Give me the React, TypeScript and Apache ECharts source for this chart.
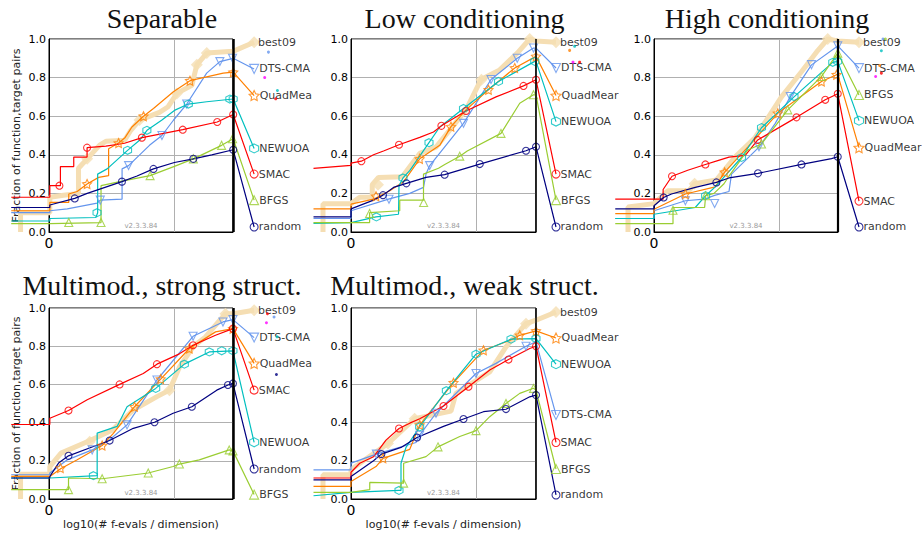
import React, { useEffect, useRef } from 'react';
import * as echarts from 'echarts';

// ---------------- data (x = log10(# f-evals / dimension), y = fraction) ----------------
const ALGOS = ['best09', 'DTS-CMA', 'QuadMear', 'NEWUOA', 'SMAC', 'BFGS', 'random'];
const TITLES = ['Separable', 'Low conditioning', 'High conditioning', 'Multimod., strong struct.', 'Multimod., weak struct.'];
const X_TICK_LABELS = ['0'];
const Y_TICKS = [0, 0.2, 0.4, 0.6, 0.8, 1.0];
const LABEL_X = 1.64;

// Separable
const sepBest09 = [[-0.235, 0], [-0.235, 0.1], [0, 0.1], [0, 0.18], [0.11, 0.19], [0.23, 0.2], [0.23, 0.33], [0.3, 0.379], [0.4, 0.45], [0.45, 0.47], [0.6, 0.475], [0.65, 0.527], [0.72, 0.58], [0.88, 0.62], [0.95, 0.649], [1.02, 0.718], [1.14, 0.76], [1.18, 0.866], [1.26, 0.927], [1.47, 0.936]];
const sepBest09Marks = [[0.3, 0.379], [0.72, 0.58], [1.02, 0.718], [1.18, 0.866], [1.26, 0.927]];
const sepDTS = [[-0.31, 0.1], [0, 0.1], [0, 0.11], [0.14, 0.12], [0.38, 0.15], [0.405, 0.165], [0.58, 0.17], [0.58, 0.327], [0.632, 0.344], [0.8, 0.449], [0.9, 0.5], [0.992, 0.579], [1.099, 0.663], [1.259, 0.823], [1.365, 0.883], [1.472, 0.9]];
const sepDTSMarks = [[0.405, 0.165], [0.632, 0.344], [0.9, 0.5], [1.099, 0.663], [1.365, 0.883], [1.467, 0.9]];
const sepQuad = [[-0.31, 0.11], [0, 0.11], [0, 0.153], [0.152, 0.153], [0.152, 0.197], [0.219, 0.21], [0.299, 0.249], [0.392, 0.283], [0.472, 0.292], [0.472, 0.431], [0.552, 0.461], [0.605, 0.49], [0.659, 0.544], [0.752, 0.6], [0.832, 0.64], [0.992, 0.727], [1.125, 0.784], [1.392, 0.823], [1.472, 0.828]];
const sepQuadMarks = [[0.299, 0.249], [0.552, 0.461], [0.752, 0.6], [1.125, 0.784], [1.472, 0.828]];
const sepNEWUOA = [[-0.31, 0.057], [0, 0.057], [0, 0.07], [0.37, 0.075], [0.384, 0.1], [0.384, 0.3], [0.46, 0.327], [0.624, 0.423], [0.72, 0.475], [0.78, 0.527], [0.9, 0.58], [1.0, 0.63], [1.112, 0.663], [1.259, 0.675], [1.472, 0.689]];
const sepNEWUOAMarks = [[0.379, 0.1], [0.624, 0.423], [0.779, 0.527], [1.112, 0.663], [1.445, 0.689], [1.472, 0.689]];
const sepSMAC = [[-0.31, 0.18], [0, 0.18], [0, 0.24], [0.085, 0.24], [0.085, 0.339], [0.192, 0.339], [0.192, 0.388], [0.299, 0.388], [0.299, 0.437], [0.45, 0.445], [0.6, 0.46], [0.74, 0.489], [1.067, 0.53], [1.344, 0.57], [1.472, 0.609]];
const sepSMACMarks = [[0.077, 0.24], [0.299, 0.437], [0.739, 0.489], [1.067, 0.53], [1.344, 0.57], [1.472, 0.609]];
const sepBFGS = [[-0.31, 0.043], [0, 0.043], [0.411, 0.049], [0.411, 0.24], [0.6, 0.266], [0.805, 0.292], [1.0, 0.34], [1.152, 0.379], [1.379, 0.449], [1.472, 0.483]];
const sepBFGSMarks = [[0.152, 0.049], [0.411, 0.049], [0.805, 0.292], [1.152, 0.379], [1.379, 0.449], [1.467, 0.483]];
const sepRandom = [[-0.31, 0.127], [0, 0.127], [0, 0.14], [0.2, 0.174], [0.3, 0.2], [0.579, 0.261], [0.7, 0.29], [0.832, 0.327], [1.0, 0.36], [1.152, 0.379], [1.3, 0.4], [1.472, 0.426]];
const sepRandomMarks = [[0.2, 0.174], [0.579, 0.261], [0.832, 0.327], [1.152, 0.379], [1.472, 0.426]];
const sepLabelY = [0.983, 0.845, 0.707, 0.433, 0.3, 0.165, 0.026];
const sepExtras = [['DTS-CMA', 1.755, 0.932], ['other', 1.725, 0.8], ['NEWUOA', 1.827, 0.733], ['SMAC', 1.813, 0.69]];

// Low conditioning
const lowBest09 = [[-0.224, 0], [-0.224, 0.147], [0, 0.147], [0.07, 0.18], [0.17, 0.18], [0.17, 0.245], [0.22, 0.283], [0.41, 0.286], [0.55, 0.407], [0.68, 0.44], [0.92, 0.633], [1.04, 0.79], [1.19, 0.84], [1.33, 0.927], [1.43, 1.0], [1.48, 0.99]];
const lowBest09Marks = [[0.216, 0.245], [1.043, 0.789], [1.43, 1.0]];
const lowDTS = [[-0.3, 0.07], [0, 0.07], [0, 0.11], [0.3, 0.17], [0.47, 0.2], [0.58, 0.231], [0.6, 0.3], [0.63, 0.344], [0.9, 0.563], [1.12, 0.79], [1.33, 0.9], [1.46, 0.953], [1.48, 0.953]];
const lowDTSMarks = [[0.304, 0.17], [0.629, 0.344], [0.9, 0.563], [1.12, 0.79], [1.33, 0.9], [1.46, 0.953]];
const lowQuad = [[-0.3, 0.12], [0, 0.12], [0, 0.144], [0.18, 0.17], [0.31, 0.214], [0.42, 0.26], [0.55, 0.379], [0.71, 0.449], [0.8, 0.546], [0.92, 0.633], [1.1, 0.737], [1.31, 0.85], [1.48, 0.91]];
const lowQuadMarks = [[0.2, 0.185], [0.549, 0.379], [0.8, 0.546], [1.1, 0.737], [1.31, 0.85], [1.48, 0.91]];
const lowNEWUOA = [[-0.3, 0.045], [0, 0.049], [0.2, 0.078], [0.38, 0.092], [0.384, 0.24], [0.416, 0.28], [0.47, 0.318], [0.624, 0.463], [0.71, 0.544], [0.9, 0.64], [1.18, 0.78], [1.47, 0.884], [1.48, 0.884]];
const lowNEWUOAMarks = [[0.203, 0.078], [0.416, 0.28], [0.624, 0.463], [0.9, 0.64], [1.18, 0.78], [1.47, 0.884]];
const lowSMAC = [[-0.3, 0.33], [0, 0.345], [0, 0.357], [0.083, 0.367], [0.18, 0.4], [0.26, 0.42], [0.384, 0.452], [0.55, 0.49], [0.66, 0.518], [0.723, 0.55], [0.92, 0.627], [1.16, 0.7], [1.38, 0.757], [1.48, 0.789]];
const lowSMACMarks = [[0.083, 0.367], [0.384, 0.452], [0.723, 0.55], [0.92, 0.627], [1.38, 0.757], [1.48, 0.789]];
const lowBFGS = [[-0.3, 0.049], [0, 0.049], [0.149, 0.049], [0.149, 0.1], [0.39, 0.11], [0.39, 0.165], [0.58, 0.165], [0.58, 0.3], [0.7, 0.33], [0.75, 0.35], [0.87, 0.393], [0.93, 0.42], [1.2, 0.511], [1.35, 0.667], [1.46, 0.711], [1.48, 0.711]];
const lowBFGSMarks = [[0.149, 0.096], [0.581, 0.153], [0.87, 0.393], [1.2, 0.511], [1.46, 0.711]];
const lowRandom = [[-0.3, 0.078], [0, 0.078], [0, 0.12], [0.18, 0.165], [0.256, 0.191], [0.34, 0.231], [0.443, 0.252], [0.6, 0.283], [0.749, 0.297], [1.03, 0.352], [1.4, 0.421], [1.48, 0.442]];
const lowRandomMarks = [[0.256, 0.191], [0.443, 0.252], [0.749, 0.297], [1.03, 0.352], [1.4, 0.421], [1.48, 0.442]];
const lowLabelY = [0.983, 0.85, 0.707, 0.572, 0.3, 0.165, 0.026];
const lowExtras = [['QuadMear', 1.749, 0.941], ['NEWUOA', 1.789, 0.962], ['other', 1.776, 0.88], ['SMAC', 1.829, 0.88]];

// High conditioning
const highBest09 = [[-0.208, 0], [-0.208, 0.13], [0, 0.147], [0.11, 0.214], [0.28, 0.214], [0.325, 0.25], [0.5, 0.27], [0.65, 0.39], [0.81, 0.49], [1.02, 0.7], [1.18, 0.83], [1.31, 0.94], [1.39, 1.0], [1.47, 0.99]];
const highBest09Marks = [[0.325, 0.25], [1.39, 1.0]];
const highDTS = [[-0.31, 0.07], [0, 0.07], [0, 0.11], [0.251, 0.162], [0.4, 0.17], [0.485, 0.19], [0.6, 0.21], [0.62, 0.3], [0.84, 0.44], [0.97, 0.563], [1.09, 0.7], [1.26, 0.866], [1.47, 0.964]];
const highDTSMarks = [[0.251, 0.162], [0.485, 0.148], [0.84, 0.442], [1.09, 0.702], [1.26, 0.867], [1.47, 0.965]];
const highQuad = [[-0.31, 0.095], [0, 0.095], [0, 0.118], [0.251, 0.197], [0.49, 0.234], [0.565, 0.31], [0.75, 0.44], [0.99, 0.615], [1.34, 0.78], [1.46, 0.815], [1.47, 0.815]];
const highQuadMarks = [[0.251, 0.197], [0.565, 0.31], [0.99, 0.615], [1.34, 0.78], [1.46, 0.815]];
const highNEWUOA = [[-0.31, 0.07], [0, 0.07], [0, 0.092], [0.33, 0.127], [0.413, 0.188], [0.49, 0.234], [0.7, 0.386], [0.86, 0.54], [1.12, 0.7], [1.43, 0.879], [1.47, 0.884]];
const highNEWUOAMarks = [[0.413, 0.188], [0.7, 0.386], [0.86, 0.541], [1.12, 0.702], [1.43, 0.879], [1.47, 0.884]];
const highSMAC = [[-0.31, 0.17], [0, 0.17], [0.073, 0.17], [0.073, 0.22], [0.144, 0.289], [0.27, 0.32], [0.411, 0.35], [0.51, 0.37], [0.6, 0.388], [0.73, 0.397], [0.83, 0.477], [1.14, 0.594], [1.37, 0.685], [1.47, 0.716]];
const highSMACMarks = [[0.144, 0.289], [0.411, 0.35], [0.83, 0.477], [1.14, 0.594], [1.37, 0.685], [1.47, 0.716]];
const highBFGS = [[-0.31, 0.043], [0, 0.043], [0.152, 0.043], [0.152, 0.127], [0.405, 0.127], [0.413, 0.188], [0.48, 0.2], [0.56, 0.25], [0.6, 0.29], [0.75, 0.425], [0.86, 0.456], [1.07, 0.633], [1.34, 0.806], [1.47, 0.927]];
const highBFGSMarks = [[0.152, 0.113], [0.413, 0.188], [0.86, 0.456], [1.07, 0.633], [1.34, 0.806], [1.47, 0.927]];
const highRandom = [[-0.31, 0.12], [0, 0.12], [0, 0.136], [0.077, 0.179], [0.14, 0.197], [0.33, 0.231], [0.499, 0.257], [0.6, 0.28], [0.832, 0.304], [1.18, 0.35], [1.42, 0.38], [1.47, 0.39]];
const highRandomMarks = [[0.077, 0.179], [0.499, 0.257], [0.832, 0.304], [1.18, 0.35], [1.47, 0.39]];
const highLabelY = [0.983, 0.849, 0.437, 0.577, 0.16, 0.71, 0.026];
const highExtras = [['DTS-CMA', 1.832, 1.0], ['BFGS', 1.851, 1.0], ['NEWUOA', 1.819, 0.939], ['QuadMear', 1.805, 0.863], ['SMAC', 1.819, 0.823], ['other', 1.773, 0.806]];

// Multimodal, strong structure
const strBest09 = [[-0.235, 0], [-0.235, 0.13], [0, 0.13], [0, 0.17], [0.09, 0.24], [0.3, 0.3], [0.5, 0.36], [0.67, 0.466], [0.86, 0.536], [0.96, 0.57], [1.04, 0.69], [1.15, 0.797], [1.25, 0.849], [1.41, 0.97], [1.47, 0.97]];
const strBest09Marks = [[0.32, 0.3], [0.96, 0.57], [1.41, 0.97]];
const strDTS = [[-0.31, 0.127], [0, 0.127], [0, 0.136], [0.14, 0.205], [0.34, 0.257], [0.48, 0.31], [0.62, 0.388], [0.86, 0.623], [1.15, 0.852], [1.39, 0.927], [1.47, 0.939]];
const strDTSMarks = [[0.34, 0.257], [0.62, 0.388], [0.86, 0.623], [1.15, 0.852], [1.39, 0.927], [1.47, 0.939]];
const strQuad = [[-0.31, 0.118], [0, 0.118], [0.09, 0.16], [0.22, 0.205], [0.42, 0.28], [0.51, 0.344], [0.68, 0.483], [0.89, 0.628], [1.12, 0.788], [1.33, 0.875], [1.47, 0.892]];
const strQuadMarks = [[0.085, 0.162], [0.42, 0.28], [0.68, 0.483], [0.89, 0.628], [1.12, 0.788], [1.47, 0.892]];
const strNEWUOA = [[-0.31, 0.11], [0, 0.11], [0.38, 0.122], [0.38, 0.345], [0.54, 0.38], [0.62, 0.483], [0.85, 0.579], [1.08, 0.706], [1.28, 0.77], [1.47, 0.776]];
const strNEWUOAMarks = [[0.35, 0.122], [0.85, 0.579], [1.08, 0.706], [1.28, 0.77], [1.38, 0.776], [1.47, 0.776]];
const strSMAC = [[-0.31, 0.39], [0, 0.39], [0, 0.423], [0.15, 0.463], [0.3, 0.52], [0.56, 0.6], [0.75, 0.657], [0.86, 0.706], [1.04, 0.76], [1.15, 0.805], [1.33, 0.857], [1.47, 0.892]];
const strSMACMarks = [[0.15, 0.463], [0.56, 0.6], [0.86, 0.706], [1.15, 0.805], [1.47, 0.892]];
const strBFGS = [[-0.31, 0.049], [0, 0.049], [0.15, 0.049], [0.15, 0.11], [0.42, 0.106], [0.79, 0.136], [0.99, 0.17], [1.04, 0.183], [1.2, 0.205], [1.44, 0.257], [1.47, 0.252]];
const strBFGSMarks = [[0.15, 0.049], [0.42, 0.106], [0.79, 0.136], [1.04, 0.183], [1.44, 0.257], [1.47, 0.252]];
const strRandom = [[-0.31, 0.11], [0, 0.11], [0, 0.118], [0.07, 0.188], [0.15, 0.226], [0.35, 0.275], [0.48, 0.306], [0.67, 0.37], [0.84, 0.402], [0.99, 0.449], [1.14, 0.483], [1.34, 0.57], [1.43, 0.597], [1.47, 0.605]];
const strRandomMarks = [[0.15, 0.226], [0.48, 0.306], [0.84, 0.402], [1.14, 0.483], [1.43, 0.597], [1.47, 0.605]];
const strLabelY = [0.988, 0.845, 0.71, 0.297, 0.57, 0.023, 0.157];
const strExtras = [['SMAC', 1.747, 0.97], ['DTS-CMA', 1.8, 0.953], ['other', 1.739, 0.923], ['NEWUOA', 1.824, 0.849], ['random', 1.819, 0.652]];

// Multimodal, weak structure
const weakBest09 = [[-0.224, 0], [-0.224, 0.127], [0, 0.127], [0, 0.153], [0.11, 0.205], [0.296, 0.291], [0.509, 0.42], [0.8, 0.46], [0.84, 0.553], [1.11, 0.666], [1.24, 0.797], [1.4, 0.918], [1.48, 0.936]];
const weakBest09Marks = [[0.296, 0.291], [0.509, 0.42], [1.4, 0.918]];
const weakDTS = [[-0.3, 0.153], [0, 0.153], [0, 0.188], [0.203, 0.235], [0.52, 0.296], [0.549, 0.334], [0.68, 0.449], [1.0, 0.657], [1.16, 0.71], [1.4, 0.8], [1.48, 0.823]];
const weakDTSMarks = [[0.203, 0.235], [0.549, 0.334], [0.68, 0.449], [1.0, 0.657], [1.4, 0.8]];
const weakQuad = [[-0.3, 0.066], [0, 0.066], [0, 0.092], [0.2, 0.17], [0.256, 0.213], [0.47, 0.26], [0.55, 0.388], [0.82, 0.609], [1.06, 0.779], [1.27, 0.83], [1.35, 0.857], [1.48, 0.88]];
const weakQuadMarks = [[0.256, 0.213], [0.55, 0.388], [0.82, 0.609], [1.06, 0.779], [1.35, 0.857], [1.48, 0.88]];
const weakNEWUOA = [[-0.3, 0.017], [0, 0.035], [0.384, 0.045], [0.4, 0.045], [0.4, 0.187], [0.44, 0.27], [0.549, 0.377], [0.763, 0.567], [1.0, 0.758], [1.28, 0.837], [1.48, 0.84]];
const weakNEWUOAMarks = [[0.384, 0.045], [0.549, 0.377], [0.763, 0.567], [1.0, 0.758], [1.28, 0.837], [1.48, 0.84]];
const weakSMAC = [[-0.3, 0.11], [0, 0.11], [0, 0.14], [0.07, 0.187], [0.18, 0.221], [0.28, 0.308], [0.384, 0.369], [0.47, 0.397], [0.55, 0.42], [0.74, 0.487], [0.94, 0.588], [1.11, 0.675], [1.26, 0.73], [1.43, 0.788], [1.48, 0.8]];
const weakSMACMarks = [[0.384, 0.369], [0.74, 0.487], [0.94, 0.588], [1.26, 0.73], [1.48, 0.8]];
const weakBFGS = [[-0.3, 0.035], [0, 0.035], [0.15, 0.049], [0.15, 0.087], [0.421, 0.083], [0.421, 0.187], [0.6, 0.222], [0.696, 0.273], [0.87, 0.327], [1.0, 0.358], [1.11, 0.431], [1.24, 0.5], [1.35, 0.553], [1.46, 0.58], [1.48, 0.57]];
const weakBFGSMarks = [[0.421, 0.083], [0.696, 0.273], [1.0, 0.358], [1.24, 0.5], [1.46, 0.579]];
const weakRandom = [[-0.3, 0.1], [0, 0.1], [0, 0.118], [0.18, 0.2], [0.243, 0.235], [0.4, 0.27], [0.528, 0.322], [0.74, 0.38], [0.9, 0.419], [1.06, 0.457], [1.24, 0.47], [1.43, 0.535], [1.48, 0.544]];
const weakRandomMarks = [[0.243, 0.235], [0.528, 0.322], [0.9, 0.419], [1.24, 0.471], [1.48, 0.544]];
const weakLabelY = [0.979, 0.44, 0.843, 0.706, 0.296, 0.157, 0.021];
const weakExtras: any[] = [];

// ---------------- assembly ----------------
const PANELS = [
  { lines: [sepBest09, sepDTS, sepQuad, sepNEWUOA, sepSMAC, sepBFGS, sepRandom], marks: [sepBest09Marks, sepDTSMarks, sepQuadMarks, sepNEWUOAMarks, sepSMACMarks, sepBFGSMarks, sepRandomMarks], labelY: sepLabelY, extras: sepExtras },
  { lines: [lowBest09, lowDTS, lowQuad, lowNEWUOA, lowSMAC, lowBFGS, lowRandom], marks: [lowBest09Marks, lowDTSMarks, lowQuadMarks, lowNEWUOAMarks, lowSMACMarks, lowBFGSMarks, lowRandomMarks], labelY: lowLabelY, extras: lowExtras },
  { lines: [highBest09, highDTS, highQuad, highNEWUOA, highSMAC, highBFGS, highRandom], marks: [highBest09Marks, highDTSMarks, highQuadMarks, highNEWUOAMarks, highSMACMarks, highBFGSMarks, highRandomMarks], labelY: highLabelY, extras: highExtras },
  { lines: [strBest09, strDTS, strQuad, strNEWUOA, strSMAC, strBFGS, strRandom], marks: [strBest09Marks, strDTSMarks, strQuadMarks, strNEWUOAMarks, strSMACMarks, strBFGSMarks, strRandomMarks], labelY: strLabelY, extras: strExtras },
  { lines: [weakBest09, weakDTS, weakQuad, weakNEWUOA, weakSMAC, weakBFGS, weakRandom], marks: [weakBest09Marks, weakDTSMarks, weakQuadMarks, weakNEWUOAMarks, weakSMACMarks, weakBFGSMarks, weakRandomMarks], labelY: weakLabelY, extras: weakExtras },
];

// ---------------- styles & layout ----------------
const COLORS: Record<string, string> = {
  best09: '#F5DEB3', 'DTS-CMA': '#6495ED', QuadMear: '#FF8000', NEWUOA: '#00BFBF',
  SMAC: '#FF0000', BFGS: '#9ACD32', random: '#000080', other: '#FF00FF',
};
const STAR = 'path://M0,-10L2.94,-4.05L9.51,-3.09L4.76,1.55L5.88,8.09L0,5L-5.88,8.09L-4.76,1.55L-9.51,-3.09L-2.94,-4.05Z';
const HEX = 'path://M0,-10L8.66,-5L8.66,5L0,10L-8.66,5L-8.66,-5Z';
const SYMBOLS: Record<string, any> = {
  best09: { symbol: 'diamond', size: 12, rotate: 0 },
  'DTS-CMA': { symbol: 'triangle', size: 8, rotate: 180 },
  QuadMear: { symbol: STAR, size: 9, rotate: 0 },
  NEWUOA: { symbol: HEX, size: 8, rotate: 0 },
  SMAC: { symbol: 'circle', size: 7, rotate: 0 },
  BFGS: { symbol: 'triangle', size: 8, rotate: 0 },
  random: { symbol: 'circle', size: 7, rotate: 0 },
};
const BOXES = [
  { left: 49, top: 39, width: 184, height: 193, edge: 2.5 },
  { left: 351, top: 39, width: 185, height: 193, edge: 1.5 },
  { left: 654, top: 39, width: 184, height: 193, edge: 2.2 },
  { left: 49, top: 308, width: 184, height: 191, edge: 2.5 },
  { left: 351, top: 308, width: 185, height: 191, edge: 1.5 },
];
const PX_PER_UNIT = 125;
// drawing area (hidden axes) extends beyond the framed box, same scale
const DRAW_XMIN = -0.4;
const DRAW_XMAX = 1.92;
const DRAW_YMIN = -0.06;
const DRAW_YMAX = 1.06;
const SANS = 'DejaVu Sans';
const SERIF = 'Liberation Serif';

function displayName(name: string, panel: number) {
  if (name === 'QuadMear' && (panel === 0 || panel === 3)) return 'QuadMea';
  return name;
}

function buildOption() {
  const grid: any[] = [];
  const xAxis: any[] = [];
  const yAxis: any[] = [];
  const series: any[] = [];
  const graphic: any[] = [];
  const n = PANELS.length;

  // framed grids with visible axes
  PANELS.forEach((p, i) => {
    const b = BOXES[i];
    const xmax = b.width / PX_PER_UNIT;
    grid.push({ left: b.left, top: b.top, width: b.width, height: b.height, show: true, borderColor: '#000', borderWidth: 1, backgroundColor: 'transparent' });
    xAxis.push({
      gridIndex: i, type: 'value', min: 0, max: xmax, interval: 1,
      axisLine: { show: true, onZero: false, lineStyle: { color: '#000', width: 1 } },
      axisTick: { show: false },
      axisLabel: { formatter: (v: number) => (v === 0 ? X_TICK_LABELS[0] : ''), fontSize: 14, color: '#000', margin: 4, fontFamily: SANS },
      splitLine: { show: true, lineStyle: { color: '#b0b0b0', width: 1 } },
      name: i >= 3 ? 'log10(# f-evals / dimension)' : '',
      nameLocation: 'middle', nameGap: 20,
      nameTextStyle: { fontSize: 11, color: '#222', fontFamily: SANS },
    });
    yAxis.push({
      gridIndex: i, type: 'value', min: Y_TICKS[0], max: Y_TICKS[Y_TICKS.length - 1], interval: 0.2,
      axisLine: { show: true, lineStyle: { color: '#000', width: 1 } },
      axisTick: { show: false },
      axisLabel: { formatter: (v: number) => v.toFixed(1), fontSize: 11, color: '#000', margin: 3, fontFamily: SANS },
      splitLine: { show: true, lineStyle: { color: '#b0b0b0', width: 1 } },
      name: i === 0 || i === 3 ? 'Fraction of function,target pairs' : '',
      nameLocation: 'middle', nameGap: 27,
      nameTextStyle: { fontSize: 11, color: '#222', fontFamily: SANS },
    });
  });

  // drawing grids: same pixel scale, wider extent so curves can run past the frame
  PANELS.forEach((p, i) => {
    const b = BOXES[i];
    const gi = n + i;
    const xmax = b.width / PX_PER_UNIT;
    grid.push({
      left: b.left + DRAW_XMIN * PX_PER_UNIT,
      width: (DRAW_XMAX - DRAW_XMIN) * PX_PER_UNIT,
      top: b.top - (DRAW_YMAX - 1) * b.height,
      height: (DRAW_YMAX - DRAW_YMIN) * b.height,
      show: false,
    });
    xAxis.push({ gridIndex: gi, type: 'value', min: DRAW_XMIN, max: DRAW_XMAX, show: false });
    yAxis.push({ gridIndex: gi, type: 'value', min: DRAW_YMIN, max: DRAW_YMAX, show: false });

    ALGOS.forEach((algo, k) => {
      const isBest = algo === 'best09';
      const color = COLORS[algo];
      const ly = p.labelY[k];
      const lineSeries: any = {
        type: 'line', name: algo, xAxisIndex: gi, yAxisIndex: gi,
        data: [...p.lines[k], [LABEL_X, ly]],
        showSymbol: false, symbol: 'none', silent: true,
        lineStyle: { color, width: isBest ? 5 : 1.2 },
        z: isBest ? 1 : 3,
      };
      if (isBest) {
        lineSeries.markLine = {
          silent: true, symbol: ['none', 'none'], label: { show: false },
          lineStyle: { color: '#000', width: b.edge, type: 'solid' },
          data: [[{ coord: [xmax, Y_TICKS[0]] }, { coord: [xmax, Y_TICKS[Y_TICKS.length - 1]] }]],
        };
      }
      series.push(lineSeries);
      const s = SYMBOLS[algo];
      series.push({
        type: 'scatter', name: algo + ' markers', xAxisIndex: gi, yAxisIndex: gi, clip: false, silent: true,
        symbol: s.symbol, symbolSize: s.size, symbolRotate: s.rotate,
        itemStyle: isBest ? { color } : { color: 'transparent', borderColor: color, borderWidth: 1.1 },
        z: isBest ? 2 : 4,
        data: [
          ...p.marks[k],
          {
            value: [LABEL_X, ly],
            symbolSize: isBest ? s.size : s.size + 1,
            label: {
              show: true, position: 'right', distance: isBest ? -2 : 0,
              formatter: displayName(algo, i), color: '#000', fontSize: 11, fontFamily: SANS,
            },
          },
        ],
      });
    });

    if (p.extras.length) {
      series.push({
        type: 'scatter', name: 'extras', xAxisIndex: gi, yAxisIndex: gi, clip: false, silent: true,
        symbol: 'circle', symbolSize: 3, z: 5,
        data: p.extras.map((e: any) => ({ value: [e[1], e[2]], itemStyle: { color: COLORS[e[0]] } })),
      });
    }

    graphic.push({
      type: 'text', x: b.left + b.width / 2 + 21, y: i < 3 ? 18 : 285,
      style: { text: TITLES[i], font: `28px "${SERIF}"`, fill: '#111', textAlign: 'center', textVerticalAlign: 'middle' },
    });
    graphic.push({
      type: 'text', x: b.left + b.width / 2, y: b.top + b.height - 6,
      style: { text: 'v2.3.3.84', font: `7px "${SANS}"`, fill: '#999', textAlign: 'center', textVerticalAlign: 'middle' },
    });
  });

  return { animation: false, backgroundColor: '#fff', grid, xAxis, yAxis, series, graphic };
}

export default function App() {
  const ref = useRef<HTMLDivElement>(null);
  useEffect(() => {
    if (!ref.current) return;
    const chart = echarts.init(ref.current, undefined, { renderer: 'svg' });
    chart.setOption(buildOption() as any);
    return () => chart.dispose();
  }, []);
  return <div ref={ref} style={{ position: 'absolute', left: 0, top: 0, width: 924, height: 536 }} />;
}
